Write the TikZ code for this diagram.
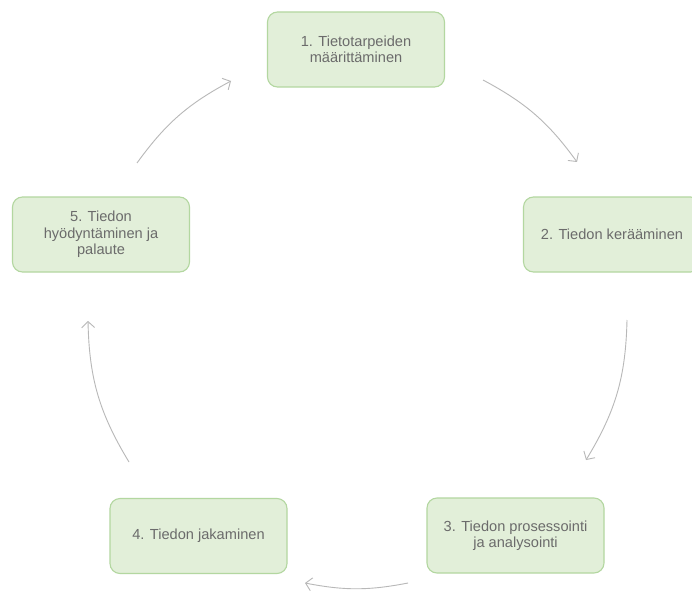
\documentclass[tikz,border=0pt]{standalone}
\usepackage{fontspec}
\setmainfont{Liberation Sans}
\usetikzlibrary{arrows.meta}
\definecolor{boxfill}{HTML}{E2EFD9}
\definecolor{boxline}{HTML}{B3D7A0}
\definecolor{boxtext}{HTML}{6B6B6B}
\definecolor{arrowgray}{HTML}{B8B8B8}
\tikzset{
  stage/.style={draw=boxline, fill=boxfill, line width=1.1pt, rounded corners=10pt,
    minimum width=177pt, minimum height=75pt, align=center, text=boxtext,
    font=\fontsize{14.6pt}{16.5pt}\selectfont, inner sep=2pt},
  flow/.style={draw=arrowgray, line width=0.9pt,
    -{Straight Barb[length=6pt,width=13pt,line width=0.9pt]}},
}
\begin{document}
\begin{tikzpicture}[x=1pt,y=1pt]
  \useasboundingbox (0,0) rectangle (692,590);
  \fill[white] (0,0) rectangle (692,590);

  % the five stages of the cycle
  \node[stage] (s1) at (356,540.5) {1. Tietotarpeiden\\määrittäminen};
  \node[stage] (s2) at (612,355.5) {2. Tiedon kerääminen};
  \node[stage] (s3) at (515.5,54.5) {3. Tiedon prosessointi\\ja analysointi};
  \node[stage] (s4) at (198.5,54) {4. Tiedon jakaminen};
  \node[stage] (s5) at (101,355.5) {5. Tiedon\\hyödyntäminen ja\\palaute};

  % end points of the curved arrows between stages
  \coordinate (a1s) at (483,510); \coordinate (a1e) at (577,428);
  \coordinate (a2s) at (627,270); \coordinate (a2e) at (586,130);
  \coordinate (a3s) at (408,7);   \coordinate (a3e) at (305,7);
  \coordinate (a4s) at (129,128); \coordinate (a4e) at (88,269);
  \coordinate (a5s) at (137,427); \coordinate (a5e) at (231,509);

  \draw[flow] (a1s) to[bend left=13] (a1e);
  \draw[flow] (a2s) to[bend left=15] (a2e);
  \draw[flow] (a3s) to[bend left=11] (a3e);
  \draw[flow] (a4s) to[bend left=15] (a4e);
  \draw[flow] (a5s) to[bend left=13] (a5e);
\end{tikzpicture}
\end{document}
